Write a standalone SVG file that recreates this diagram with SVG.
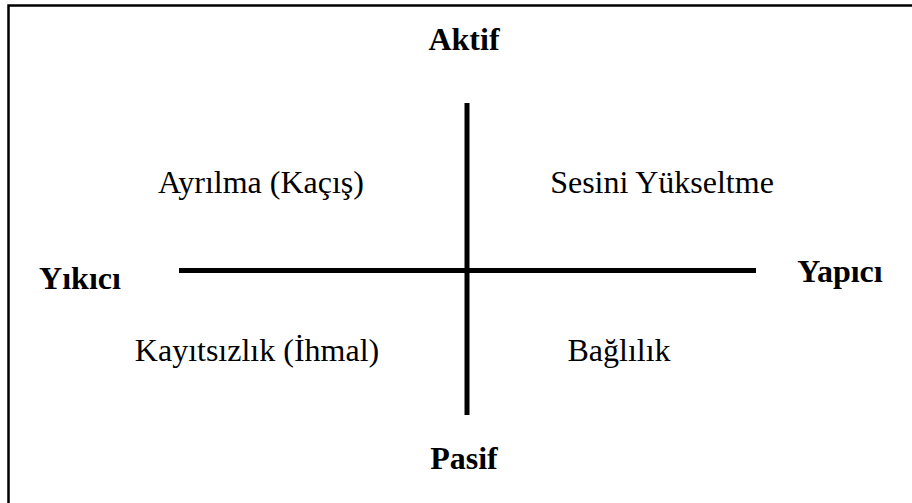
<svg xmlns="http://www.w3.org/2000/svg" width="912" height="503" viewBox="0 0 912 503">
<style>
.t{font-family:"Liberation Serif","Times New Roman",serif;font-size:32px;fill:#000;text-anchor:middle}
.b{font-weight:bold}
.ax{stroke:#000;stroke-width:5;fill:none}
</style>
<rect x="0" y="0" width="912" height="503" fill="#fff"/>
<path d="M8.5,503 V5.5 H912" stroke="#000" stroke-width="2.5" fill="none"/>
<g id="connectors">
<line class="ax" x1="467" y1="103" x2="467" y2="415"/>
<line class="ax" x1="179" y1="270.5" x2="756" y2="270.5"/>
</g>
<g id="aktif"><text class="t b" x="464" y="50" font-size="30">Aktif</text></g>
<g id="pasif"><text class="t b" x="464" y="469" font-size="30">Pasif</text></g>
<g id="yikici"><text class="t b" x="80" y="289">Yıkıcı</text></g>
<g id="yapici"><text class="t b" x="840" y="282">Yapıcı</text></g>
<g id="ayrilma"><text class="t" x="261" y="193">Ayrılma (Kaçış)</text></g>
<g id="sesini"><text class="t" x="662" y="193">Sesini Yükseltme</text></g>
<g id="kayitsizlik"><text class="t" x="257" y="361">Kayıtsızlık (İhmal)</text></g>
<g id="baglilik"><text class="t" x="619" y="361">Bağlılık</text></g>
</svg>
